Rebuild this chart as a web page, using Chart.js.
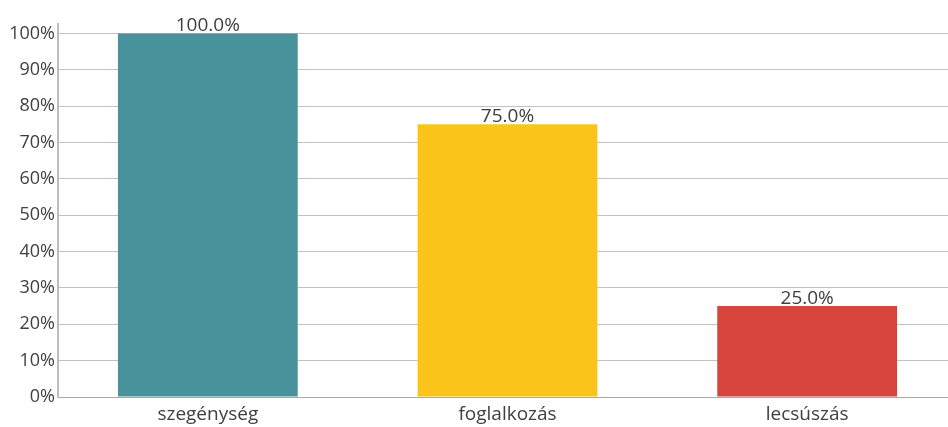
<!DOCTYPE html>
<html><head><meta charset="utf-8">
<script src="https://cdn.jsdelivr.net/npm/chart.js@4.4.1/dist/chart.umd.min.js"></script>
<style>html,body{margin:0;padding:0;background:#fff}#wrap{width:948px;height:427px;overflow:hidden}</style>
</head><body><div id="wrap"><canvas id="c" width="957" height="427"></canvas></div>
<script>
const categories = ["szegénység", "foglalkozás", "lecsúszás"];
const values = [100, 75, 25];
const barColors = ["#48939b", "#fbc419", "#d6443c"];
const valueLabels = ["100.0%", "75.0%", "25.0%"];
const yTicks = [0, 10, 20, 30, 40, 50, 60, 70, 80, 90, 100];

const labelPlugin = {
  id: 'valLabels',
  afterDatasetsDraw(chart) {
    const ctx = chart.ctx;
    const meta = chart.getDatasetMeta(0);
    ctx.save();
    ctx.font = '19px "Open Sans", sans-serif';
    ctx.fillStyle = '#404040';
    ctx.textAlign = 'center';
    ctx.textBaseline = 'bottom';
    meta.data.forEach((bar, i) => {
      ctx.fillText(valueLabels[i], bar.x, bar.y + 2);
    });
    ctx.restore();
  }
};

new Chart(document.getElementById('c'), {
  type: 'bar',
  data: {
    labels: categories,
    datasets: [{ data: values, backgroundColor: barColors, borderWidth: 0, barPercentage: 0.6, categoryPercentage: 1.0 }]
  },
  options: {
    responsive: false, animation: false,
    layout: { padding: { top: 24, right: 0, left: 0, bottom: 0 } },
    plugins: { legend: { display: false }, tooltip: { enabled: false } },
    scales: {
      x: {
        grid: { display: false, drawTicks: false },
        border: { color: '#a8a8a8', width: 1 },
        ticks: { color: '#404040', font: { family: 'Open Sans', size: 19 }, padding: 6 },
        afterFit(s) { s.height = 30; }
      },
      y: {
        min: 0, max: 102.6,
        grid: { color: '#c2c2c2', drawTicks: false },
        border: { color: '#bdbdbd', width: 2 },
        ticks: { color: '#404040', font: { family: 'Open Sans', size: 18 }, padding: 3,
          callback: v => v + '%' },
        afterBuildTicks(s) { s.ticks = yTicks.map(v => ({ value: v })); },
        afterFit(s) { s.width = 58; }
      }
    }
  },
  plugins: [labelPlugin]
});
</script></body></html>
